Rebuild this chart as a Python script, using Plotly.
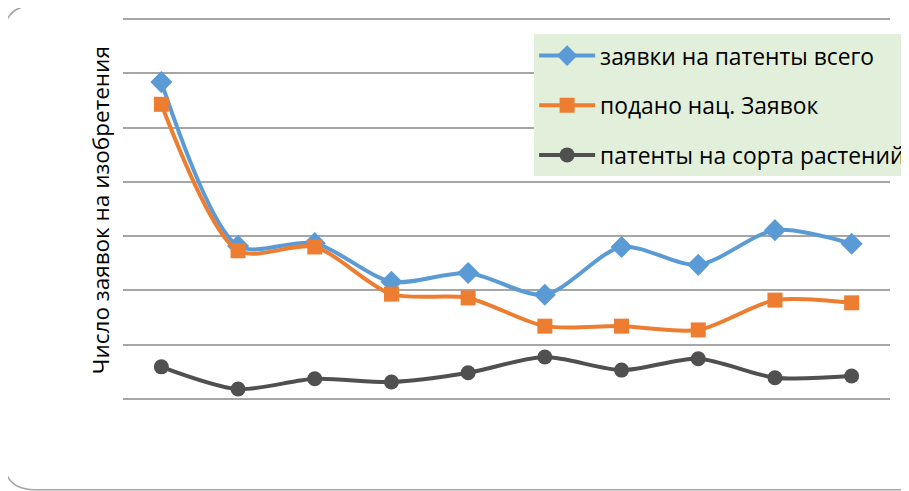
import plotly.graph_objects as go

# Годы (подписи по оси X на исходном рисунке скрыты)
years = ['2008', '2009', '2010', '2011', '2012', '2013', '2014', '2015', '2016', '2017']

# Значения рядов (оценка по рисунку)
total_apps = [5840, 2820, 2870, 2160, 2320, 1920, 2800, 2470, 3110, 2860]
national_apps = [5430, 2730, 2800, 1930, 1860, 1340, 1340, 1270, 1820, 1770]
plant_patents = [590, 180, 370, 310, 480, 770, 530, 740, 390, 420]

series = [
    ('заявки на патенты всего', total_apps, '#5B9BD5', 'diamond', 17),
    ('подано нац. Заявок', national_apps, '#ED7D31', 'square', 15),
    ('патенты на сорта растений', plant_patents, '#505050', 'circle', 15),
]

fig = go.Figure()
for i, (name, vals, color, symbol, size) in enumerate(series):
    fig.add_trace(go.Scatter(
        x=years, y=vals, name=name, legendgroup=str(i),
        mode='lines+markers',
        line=dict(color=color, width=4, shape='spline', smoothing=0.8),
        marker=dict(symbol=symbol, size=size, color=color),
    ))

# Рамка со скруглёнными углами вокруг диаграммы
x0, x1, y0, y1 = -0.155, 1.03, -0.231, 1.03
rx, ry = 0.04, 0.078
border = (f'M {x0},{y0 + ry} L {x0},{y1 - ry} Q {x0},{y1} {x0 + rx},{y1} '
          f'L {x1},{y1} L {x1},{y0} L {x0 + rx},{y0} Q {x0},{y0} {x0},{y0 + ry} Z')

fig.update_layout(
    width=909, height=491,
    margin=dict(l=115, r=27, t=9, b=98, autoexpand=False),
    paper_bgcolor='white', plot_bgcolor='white',
    font=dict(family='Open Sans', color='black'),
    showlegend=True,
    legend=dict(
        x=0.536, y=0.955, xanchor='left', yanchor='top',
        bgcolor='#E2EFDA', font=dict(size=22.8, color='black'),
        tracegroupgap=17, itemwidth=56,
    ),
    xaxis=dict(range=[-0.5, 9.5], showticklabels=False, showgrid=False,
               zeroline=False, showline=False, ticks='', automargin=False),
    yaxis=dict(
        range=[-40, 7040], dtick=1000, showticklabels=False,
        showgrid=True, gridcolor='#A6A6A6', gridwidth=1.5, zeroline=False,
        automargin=False,
    ),
    annotations=[dict(
        text='Число заявок на изобретения', textangle=-90,
        xref='paper', yref='paper', x=-0.03, y=0.497,
        xanchor='center', yanchor='middle', showarrow=False,
        font=dict(size=22.5, color='black'),
    )],
    shapes=[dict(type='path', path=border, xref='paper', yref='paper',
                 line=dict(color='#A6A6A6', width=1.5), layer='below')],
)

fig.write_html('out.html')
